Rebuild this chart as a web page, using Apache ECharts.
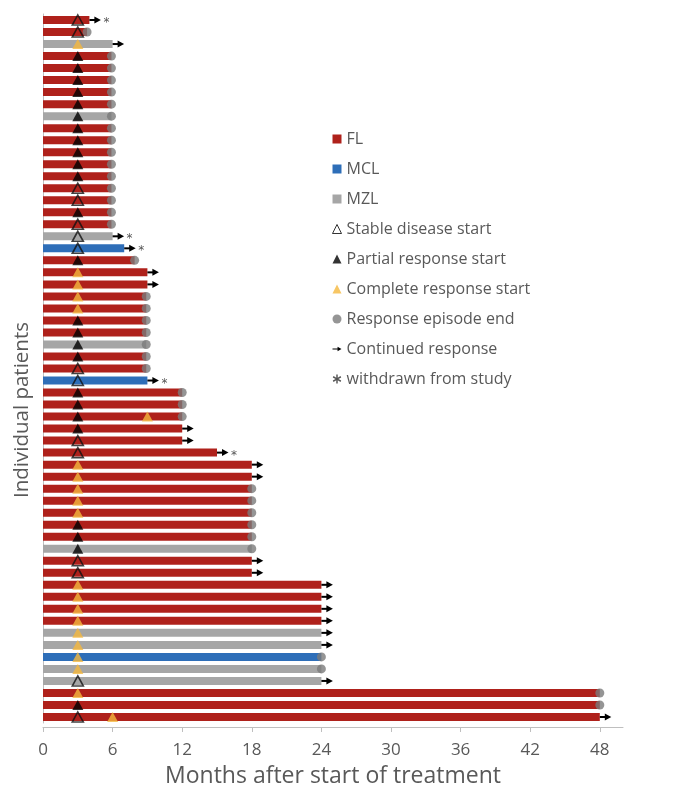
<!DOCTYPE html>
<html><head><meta charset="utf-8">
<script src="https://cdn.jsdelivr.net/npm/echarts@6/dist/echarts.min.js"></script>
<style>html,body{margin:0;padding:0;background:#fff}#c{width:690px;height:794px}</style>
</head><body><div id="c"></div>
<script>
// ---- data (rows listed top to bottom) ----
const patients = ['1','2','3','4','5','6','7','8','9','10','11','12','13','14','15','16','17','18','19','20',
  '21','22','23','24','25','26','27','28','29','30','31','32','33','34','35','36','37','38','39','40',
  '41','42','43','44','45','46','47','48','49','50','51','52','53','54','55','56','57','58','59'];
const histology = [
  'FL','FL','MZL','FL','FL','FL','FL','FL','MZL','FL',
  'FL','FL','FL','FL','FL','FL','FL','FL','MZL','MCL',
  'FL','FL','FL','FL','FL','FL','FL','MZL','FL','FL',
  'MCL','FL','FL','FL','FL','FL','FL','FL','FL','FL',
  'FL','FL','FL','FL','MZL','FL','FL','FL','FL','FL',
  'FL','MZL','MZL','MCL','MZL','MZL','FL','FL','FL'];
const duration = [
  4.0,3.8,6.0,5.9,5.9,5.9,5.9,5.9,5.9,5.9,
  5.9,5.9,5.9,5.9,5.9,5.9,5.9,5.9,6.0,7.0,
  7.9,9.0,9.0,8.9,8.9,8.9,8.9,8.9,8.9,8.9,
  9.0,12,12,12,12,12,15,18,18,18,
  18,18,18,18,18,18,18,24,24,24,
  24,24,24,24,24,24,48,48,48];
const sdStart = [
  3,3,null,null,null,null,null,null,null,null,
  null,null,null,null,3,3,null,3,3,3,
  null,null,null,null,null,null,null,null,null,3,
  3,null,null,null,null,3,3,null,null,null,
  null,null,null,null,null,3,3,null,null,null,
  null,null,null,null,null,3,null,null,3];
const prStart = [
  null,null,null,3,3,3,3,3,3,3,
  3,3,3,3,null,null,3,null,null,null,
  3,null,null,null,null,3,3,3,3,null,
  null,3,3,3,3,null,null,null,null,null,
  null,null,3,3,3,null,null,null,null,null,
  null,null,null,null,null,null,null,3,null];
const crStart = [
  null,null,3,null,null,null,null,null,null,null,
  null,null,null,null,null,null,null,null,null,null,
  null,3,3,3,3,null,null,null,null,null,
  null,null,null,9,null,null,null,3,3,3,
  3,3,null,null,null,null,null,3,3,3,
  3,3,3,3,3,null,3,null,6];
// 'E' = response episode end, 'C' = continued response
const outcome = [
  'C','E','C','E','E','E','E','E','E','E',
  'E','E','E','E','E','E','E','E','C','C',
  'E','C','C','E','E','E','E','E','E','E',
  'C','E','E','E','C','C','C','C','C','E',
  'E','E','E','E','E','C','C','C','C','C',
  'C','C','C','E','E','C','E','E','C'];
const withdrawn = [
  1,0,0,0,0,0,0,0,0,0,
  0,0,0,0,0,0,0,0,1,1,
  0,0,0,0,0,0,0,0,0,0,
  1,0,0,0,0,0,1,0,0,0,
  0,0,0,0,0,0,0,0,0,0,
  0,0,0,0,0,0,0,0,0];
const xTicks = [0,6,12,18,24,30,36,42,48];

// ---- build ----
const FONT = '"Open Sans", "Noto Sans", sans-serif';
const TXT = '#595959';
const colors = {FL:'#AF211B', MCL:'#2E6EB8', MZL:'#A6A6A6'};
const barData = h => duration.map((d,i) => histology[i] === h ? d : null);
const pts = arr => { const o=[]; arr.forEach((v,i)=>{ if(v!=null) o.push([v, patients[i]]); }); return o; };
const endPts = code => { const o=[]; outcome.forEach((c,i)=>{ if(c===code) o.push([duration[i], patients[i]]); }); return o; };
const wdPts = (() => { const o=[]; withdrawn.forEach((w,i)=>{ if(w) o.push([duration[i], patients[i], outcome[i]==='C'?1:0]); }); return o; })();

const asteriskPath = 'path://M4.2,0H5.8V3.6L8.9,1.8L9.7,3.2L6.6,5L9.7,6.8L8.9,8.2L5.8,6.4V10H4.2V6.4L1.1,8.2L0.3,6.8L3.4,5L0.3,3.2L1.1,1.8L4.2,3.6Z';
const arrowPath = 'path://M0,4.1H9V1.2L16,5L9,8.8V5.9H0Z';

const barSeries = ['FL','MCL','MZL'].map(h => ({
  type:'bar', name:h, data:barData(h), barWidth:8, barGap:'-100%',
  itemStyle:{color:colors[h]}, z:2
}));

const chart = echarts.init(document.getElementById('c'), null, {renderer:'canvas'});
chart.setOption({
  animation:false,
  backgroundColor:'#fff',
  grid:{left:43, width:580, top:14, height:709},
  xAxis:{
    type:'value', min:0, max:50, offset:4,
    splitLine:{show:false},
    axisLine:{show:true, lineStyle:{color:'#BFBFBF', width:1}},
    axisTick:{show:true, customValues:xTicks, length:5, lineStyle:{color:'#BFBFBF'}},
    axisLabel:{customValues:xTicks, fontFamily:FONT, fontSize:17, color:TXT, margin:15},
    name:'Months after start of treatment', nameLocation:'middle', nameGap:38,
    nameTextStyle:{fontFamily:FONT, fontSize:23, color:TXT}
  },
  yAxis:{
    type:'category', data:patients, inverse:true,
    axisLabel:{show:false}, axisTick:{show:false},
    axisLine:{show:true, lineStyle:{color:'#BFBFBF', width:1}}
  },
  legend:{
    orient:'vertical', left:327, top:125, itemWidth:9, itemHeight:9, itemGap:12,
    selectedMode:false,
    textStyle:{fontFamily:FONT, fontSize:16, color:TXT, lineHeight:18},
    data:[
      {name:'FL', icon:'rect'},
      {name:'MCL', icon:'rect'},
      {name:'MZL', icon:'rect'},
      {name:'Stable disease start', icon:'triangle', itemStyle:{color:'#fff', borderColor:'#000', borderWidth:1}},
      {name:'Partial response start', icon:'triangle'},
      {name:'Complete response start', icon:'triangle'},
      {name:'Response episode end', icon:'circle'},
      {name:'Continued response', icon:arrowPath, itemStyle:{color:'#000'}},
      {name:'withdrawn from study', icon:asteriskPath, itemStyle:{color:'#555'}}
    ]
  },
  graphic:[{
    type:'text', x:22, y:410, rotation:Math.PI/2,
    style:{text:'Individual patients', fontFamily:FONT, fontSize:20.5, fill:TXT, align:'center', verticalAlign:'middle'}
  }],
  series:[
    ...barSeries,
    {type:'scatter', name:'Stable disease start', data:pts(sdStart), symbol:'triangle', symbolSize:[11,10],
      itemStyle:{color:'rgba(0,0,0,0)', borderColor:'#111', borderWidth:1.6}, z:4},
    {type:'scatter', name:'Partial response start', data:pts(prStart), symbol:'triangle', symbolSize:[11,10],
      itemStyle:{color:'#000'}, z:4},
    {type:'scatter', name:'Complete response start', data:pts(crStart), symbol:'triangle', symbolSize:[11,10],
      itemStyle:{color:'#F5B83D'}, z:4},
    {type:'scatter', name:'Response episode end', data:endPts('E'), symbol:'circle', symbolSize:9,
      itemStyle:{color:'#7A7A7A'}, z:3},
    {type:'custom', name:'Continued response', data:endPts('C'), encode:{x:0, y:1}, itemStyle:{color:'#000'}, z:3,
      renderItem:(params, api) => {
        const p = api.coord([api.value(0), api.value(1)]);
        return {type:'group', children:[
          {type:'line', shape:{x1:p[0], y1:p[1], x2:p[0]+6, y2:p[1]}, style:{stroke:'#000', lineWidth:2}},
          {type:'polygon', shape:{points:[[p[0]+5,p[1]-3.5],[p[0]+11.5,p[1]],[p[0]+5,p[1]+3.5]]}, style:{fill:'#000'}}
        ]};
      }},
    {type:'custom', name:'withdrawn from study', data:wdPts, encode:{x:0, y:1}, itemStyle:{color:'#555'}, z:3,
      renderItem:(params, api) => {
        const p = api.coord([api.value(0), api.value(1)]);
        const dx = api.value(2) ? 17 : 7;
        return {type:'text', x:p[0]+dx, y:p[1]+3,
          style:{text:'*', fontFamily:'"DejaVu Sans", sans-serif', fontSize:12, fill:'#555', align:'center', verticalAlign:'middle'}};
      }}
  ]
});
</script>
</body></html>
